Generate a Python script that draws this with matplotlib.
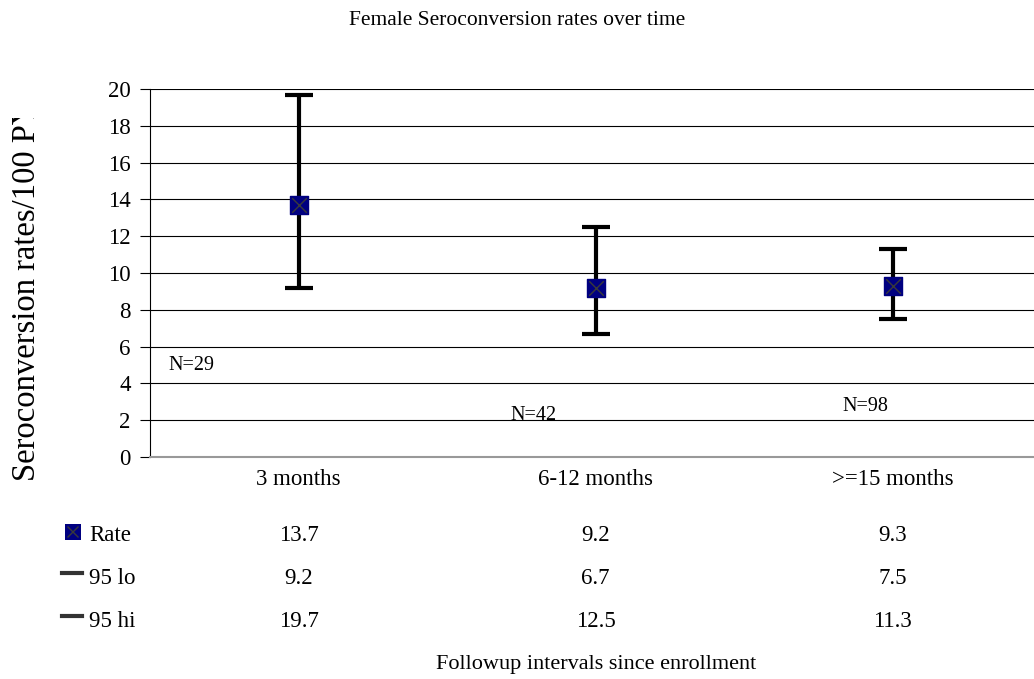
import matplotlib.pyplot as plt
from matplotlib.transforms import Bbox
from matplotlib.patches import Rectangle

categories = ['3 months', '6-12 months', '>=15 months']
rate = [13.7, 9.2, 9.3]
lo95 = [9.2, 6.7, 7.5]
hi95 = [19.7, 12.5, 11.3]
n_labels = ['N=29', 'N=42', 'N=98']
n_pos = [(-0.362, 4.75), (0.79, 2.0), (1.907, 2.5)]
yticks = list(range(0, 21, 2))

plt.rcParams['font.family'] = ['Liberation Serif', 'DejaVu Serif']

W, H = 1034, 679
fig = plt.figure(figsize=(W / 100, H / 100), dpi=100)
ax = fig.add_axes([150 / W, 1 - 457 / H, 891 / W, (457 - 89) / H])


def fy(py):
    return 1 - py / H


def fx(px):
    return px / W


x = list(range(len(categories)))
yerr = [[r - l for r, l in zip(rate, lo95)], [h - r for r, h in zip(rate, hi95)]]
eb = ax.errorbar(x, rate, yerr=yerr, fmt='none', ecolor='black', elinewidth=3,
                 capsize=10, capthick=3, zorder=3)
for cap in eb[1]:
    cap.set_color('#333333')
ax.scatter(x, rate, marker='s', s=150, color='#000080', zorder=4)
ax.scatter(x, rate, marker='x', s=110, color='#3a3a3a', linewidths=1, zorder=5)

for lab, (px, py) in zip(n_labels, n_pos):
    ax.text(px, py, lab, fontsize=14.5, ha='center', va='baseline')

ax.set_xlim(-0.5, 2.5)
ax.set_ylim(0, 20)
ax.set_yticks(yticks)
ax.set_xticks([])
ax.yaxis.grid(True, color='black', linewidth=0.8)
ax.set_axisbelow(True)
ax.tick_params(axis='y', labelsize=16.5, length=7, width=0.8, pad=7)
for s in ['top', 'right']:
    ax.spines[s].set_visible(False)
ax.spines['left'].set_linewidth(0.8)
ax.spines['bottom'].set_color('#999999')
ax.spines['bottom'].set_linewidth(1.5)

# category labels and data table under the plot
for i, c in enumerate(categories):
    xd = ax.transData.transform((i, 0))[0]
    fig.text(xd / W, fy(485), c, fontsize=16.5, ha='center', va='baseline')

rows = [('Rate', rate, 541), ('95 lo', lo95, 584), ('95 hi', hi95, 627)]
for name, vals, py in rows:
    fig.text(fx(89), fy(py), name, fontsize=16.5, ha='left', va='baseline')
    for i, v in enumerate(vals):
        xd = ax.transData.transform((i, 0))[0]
        fig.text(xd / W, fy(py), f'{v:.1f}', fontsize=16.5, ha='center', va='baseline')

fig.patches.append(Rectangle((fx(65), fy(540)), 16 / W, 16 / H, transform=fig.transFigure,
                             facecolor='#000080', edgecolor='none'))
fig.lines.append(plt.Line2D([fx(68), fx(78)], [fy(537), fy(527)], transform=fig.transFigure,
                            color='#3a3a3a', lw=1))
fig.lines.append(plt.Line2D([fx(68), fx(78)], [fy(527), fy(537)], transform=fig.transFigure,
                            color='#3a3a3a', lw=1))
for py in (573, 616):
    fig.lines.append(plt.Line2D([fx(62), fx(82)], [fy(py), fy(py)], transform=fig.transFigure,
                                color='#333333', lw=3))

fig.text(fx(517), fy(25), 'Female Seroconversion rates over time', fontsize=15.5,
         ha='center', va='baseline')
fig.text(fx(596), fy(669), 'Followup intervals since enrollment', fontsize=16,
         ha='center', va='baseline')

# y label is cut off at the top in the original
yl = fig.text(fx(27), fy(481), 'Seroconversion rates/100 PY', fontsize=23.5,
              rotation=90, ha='center', va='bottom')
yl.set_clip_box(Bbox.from_extents(0, 0, 70, H - 118))
yl.set_clip_on(True)

fig.savefig('out.png', dpi=100)
